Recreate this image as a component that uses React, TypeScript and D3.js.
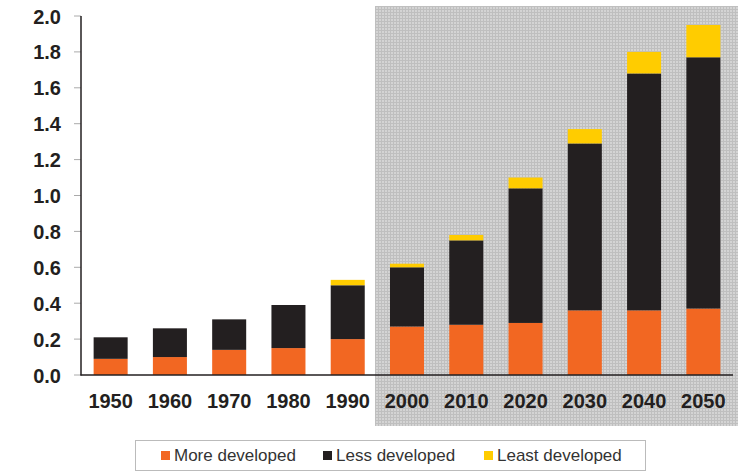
import React from "react";
import * as d3 from "d3";

const years = ["1950","1960","1970","1980","1990","2000","2010","2020","2030","2040","2050"];
const moreDeveloped = [0.09, 0.10, 0.14, 0.15, 0.20, 0.27, 0.28, 0.29, 0.36, 0.36, 0.37];
const lessDeveloped = [0.12, 0.16, 0.17, 0.24, 0.30, 0.33, 0.47, 0.75, 0.93, 1.32, 1.40];
const leastDeveloped = [0.00, 0.00, 0.00, 0.00, 0.03, 0.02, 0.03, 0.06, 0.08, 0.12, 0.18];
const yTicks = [0, 0.2, 0.4, 0.6, 0.8, 1.0, 1.2, 1.4, 1.6, 1.8, 2.0];
const seriesNames = ["More developed", "Less developed", "Least developed"];
const colors = ["#F26722", "#231F20", "#FFCC00"];

export default function App() {
  const x = d3.scaleBand().domain(years).range([81, 733]).paddingInner(0.426).paddingOuter(0.213);
  const y = d3.scaleLinear().domain([0, 2]).range([375, 16]);
  const rows = years.map((yr, i) => ({ year: yr, m: moreDeveloped[i], l: lessDeveloped[i], t: leastDeveloped[i] }));
  const stacked = d3.stack<any>().keys(["m", "l", "t"])(rows);
  const font = "'Liberation Sans', Arial, sans-serif";
  return (
    <svg width={740} height={474} style={{ position: "absolute", left: 0, top: 0 }}>
      <defs>
        <pattern id="grid" width={3} height={3} patternUnits="userSpaceOnUse">
          <rect width={3} height={3} fill="#d4d4d4" />
          <rect width={3} height={1} fill="#bfbfbf" />
          <rect width={1} height={3} fill="#bfbfbf" />
        </pattern>
      </defs>
      <rect x={0} y={0} width={740} height={474} fill="#fff" />
      <rect x={375} y={6} width={363} height={420} fill="url(#grid)" />
      {yTicks.map((t) => (
        <g key={t}>
          <line x1={74} x2={81} y1={y(t)} y2={y(t)} stroke="#aaa" strokeWidth={1} />
          <text x={61} y={y(t) + 7.5} textAnchor="end" fontFamily={font} fontWeight="bold" fontSize={20} fill="#231F20">
            {t.toFixed(1)}
          </text>
        </g>
      ))}
      {stacked.map((s, si) => (
        <g key={si} fill={colors[si]}>
          {s.map((d, i) => {
            const h = y(d[0]) - y(d[1]);
            if (h <= 0) return null;
            return <rect key={i} x={x(years[i])} y={y(d[1])} width={x.bandwidth()} height={h} />;
          })}
        </g>
      ))}
      <line x1={81} x2={81} y1={16} y2={375.5} stroke="#231F20" strokeWidth={1.5} />
      <line x1={80.5} x2={733} y1={375} y2={375} stroke="#231F20" strokeWidth={1.5} />
      {years.map((yr) => (
        <text key={yr} x={(x(yr) as number) + x.bandwidth() / 2} y={408} textAnchor="middle" fontFamily={font} fontWeight="bold" fontSize={20} fill="#231F20">
          {yr}
        </text>
      ))}
      <rect x={135.5} y={440.5} width={510} height={30} fill="#fff" stroke="#bbb" strokeWidth={1} />
      {seriesNames.map((n, i) => {
        const xs = [161, 323, 484][i];
        return (
          <g key={n}>
            <rect x={xs} y={451} width={9} height={9} fill={colors[i]} />
            <text x={xs + 13} y={461} fontFamily={font} fontSize={17} fill="#333">{n}</text>
          </g>
        );
      })}
    </svg>
  );
}
